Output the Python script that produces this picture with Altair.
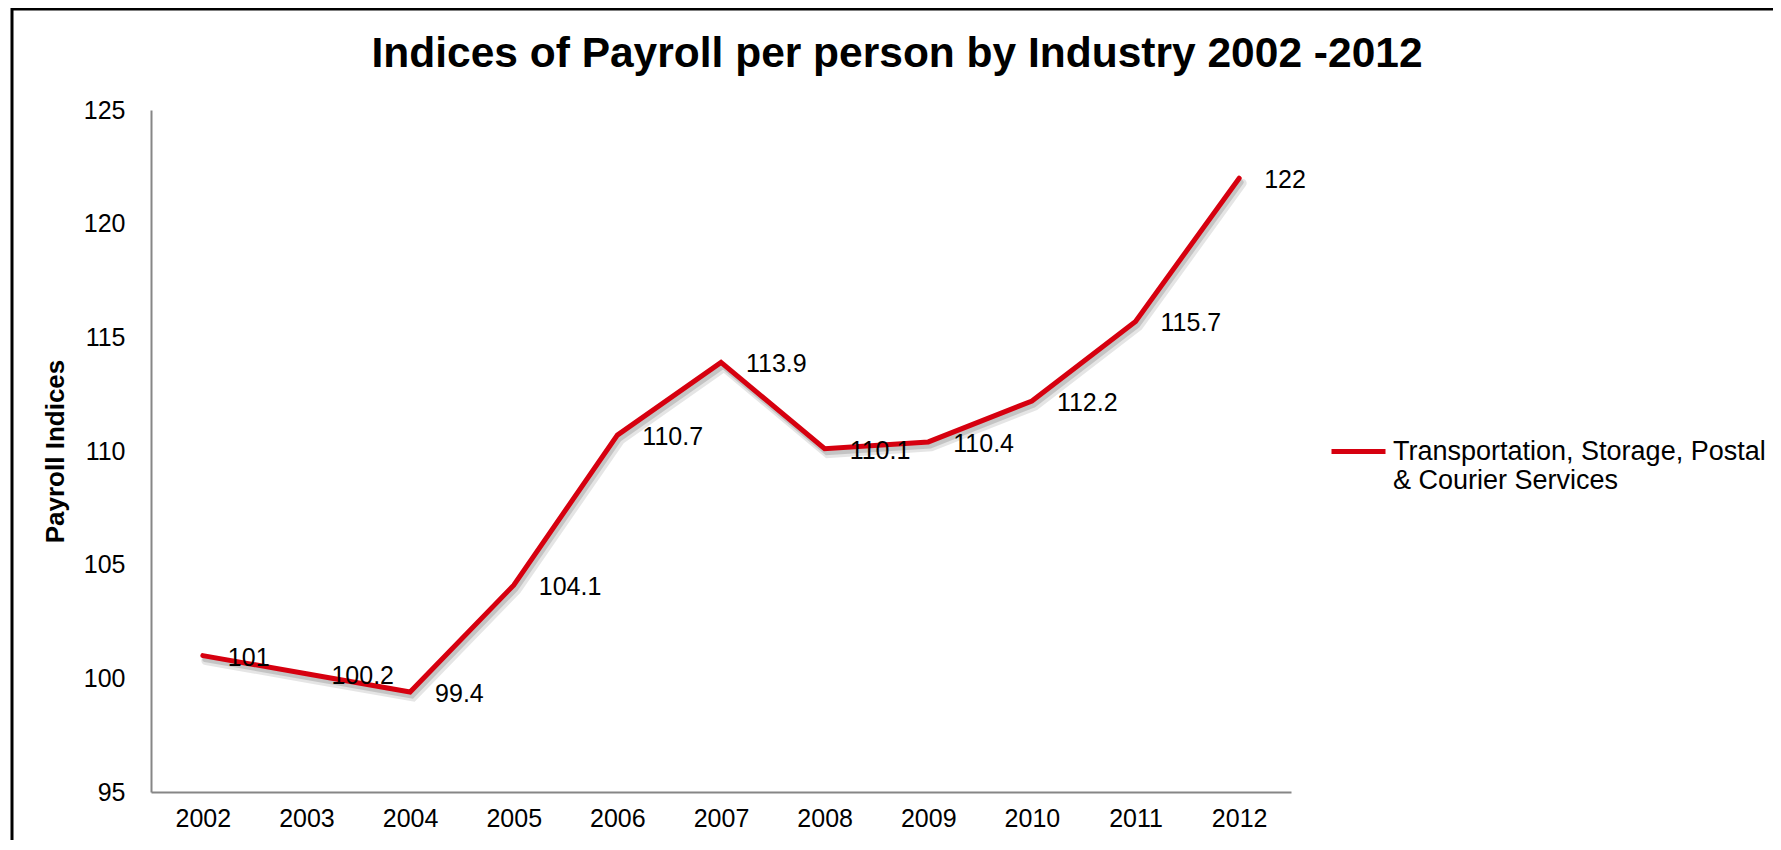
import altair as alt
import pandas as pd

years = ["2002", "2003", "2004", "2005", "2006", "2007", "2008", "2009", "2010", "2011", "2012"]
values = [101, 100.2, 99.4, 104.1, 110.7, 113.9, 110.1, 110.4, 112.2, 115.7, 122]
series_name = "Transportation, Storage, Postal & Courier Services"
y_ticks = [95, 100, 105, 110, 115, 120, 125]

df = pd.DataFrame({"year": years, "value": values, "series": [series_name] * len(years)})

FONT = "Liberation Sans"
RED = "#d6000f"

x_enc = alt.X("year:N", sort=years,
              axis=alt.Axis(title=None, labelAngle=0, ticks=False, tickSize=0,
                            labelPadding=14, labelFontSize=25, labelColor="black",
                            labelFont=FONT, domainColor="#868686", domainWidth=2))
y_enc = alt.Y("value:Q",
              scale=alt.Scale(domain=[95, 125], nice=False, zero=False),
              axis=alt.Axis(title="Payroll Indices", values=y_ticks, grid=False,
                            ticks=False, tickSize=0, labelPadding=26, labelFontSize=25,
                            labelColor="black", labelFont=FONT, domainColor="#868686",
                            domainWidth=2, titleFont=FONT, titleFontSize=26,
                            titleFontWeight="bold", titleColor="black", titleAngle=270,
                            titleBaseline="middle", titleAlign="center",
                            titleX=-96, titleY=341))

base = alt.Chart(df)

shadow1 = base.mark_line(color="black", opacity=0.10, strokeWidth=9, xOffset=3, yOffset=5,
                         strokeCap="round", strokeJoin="miter").encode(x=x_enc, y=y_enc)
shadow2 = base.mark_line(color="black", opacity=0.14, strokeWidth=5, xOffset=2, yOffset=4,
                         strokeCap="round", strokeJoin="miter").encode(x=x_enc, y=y_enc)

line = base.mark_line(strokeWidth=5, strokeCap="round", strokeJoin="miter").encode(
    x=x_enc, y=y_enc,
    color=alt.Color("series:N",
                    scale=alt.Scale(domain=[series_name], range=[RED]),
                    legend=alt.Legend(title=None, orient="none", legendX=1178, legendY=312,
                                      padding=0,
                                      symbolType="stroke",
                                      symbolSize=2916, symbolStrokeWidth=5,
                                      labelFont=FONT, labelFontSize=27, labelColor="black",
                                      labelLimit=600, labelOffset=5,
                                      labelBaseline="middle",
                                      labelExpr="split(replace(datum.label, ', Postal ', ', Postal|'), '|')")),
)

labels = base.mark_text(align="left", baseline="middle", dx=25, dy=2, fontSize=25,
                        font=FONT, color="black").encode(
    x=x_enc, y=y_enc, text=alt.Text("value:Q", format="~g"))

frame = alt.Chart(alt.Data(values=[{"f": 1}])).mark_rect(
    filled=False, stroke="black", strokeWidth=3).encode(
    x=alt.value(-139), x2=alt.value(1700), y=alt.value(-101), y2=alt.value(900))

chart = alt.layer(frame, shadow1, shadow2, line, labels).properties(
    width=1140, height=682,
    title=alt.TitleParams("Indices of Payroll per person by Industry 2002 -2012",
                          font=FONT, fontSize=42.5, fontWeight="bold", color="black",
                          anchor="middle", frame="group", dx=176, dy=72),
    autosize=alt.AutoSizeParams(type="none"),
    padding={"left": 143, "top": 102, "right": 482, "bottom": 48},
).configure(background="white").configure_view(strokeWidth=0, stroke="transparent")

chart.save("out.html", embed_options={"renderer": "svg", "actions": False})
